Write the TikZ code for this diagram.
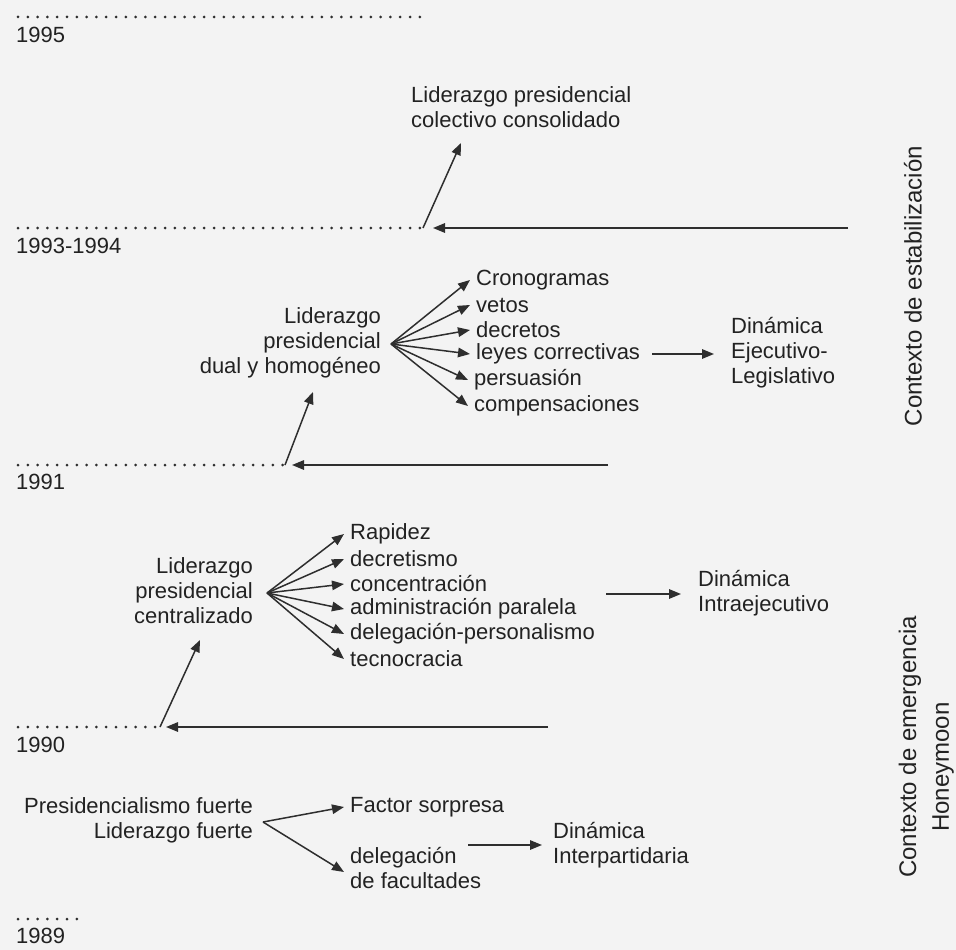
\documentclass[tikz,border=0pt]{standalone}
\usepackage{fontspec}
\setmainfont{Liberation Sans}
\usetikzlibrary{arrows.meta,calc}
\definecolor{bgc}{HTML}{F3F3F3}
\definecolor{txt}{HTML}{222222}
\definecolor{ln}{HTML}{2E2E2E}
\newcommand\fsA{\fontsize{22}{25}\selectfont}
\newcommand\fsB{\fontsize{24}{27}\selectfont}
\tikzset{
  lbl/.style={font=\fsA, text=txt, inner sep=0pt},
  itm/.style={lbl, anchor=west, inner xsep=6pt, align=left},
  arr/.style={draw=ln, line width=1.5pt, -{Triangle[length=12pt,width=9.5pt]}},
  dotl/.style={draw=ln, line width=3pt, line cap=round, dash pattern=on 0pt off 9.8pt},
  vlbl/.style={font=\fsB, text=txt, rotate=90, inner sep=0pt}
}
\begin{document}
\begin{tikzpicture}[x=1pt,y=-1pt]
\fill[bgc] (0,0) rectangle (956,950);
\useasboundingbox (0,0) rectangle (956,950);

% ---------- 1995 / 1993-1994 ----------
\coordinate (d95a) at (18,17);
\coordinate (d95b) at (427,17);
\draw[dotl] (d95a) -- (d95b);
\node[lbl,anchor=west] (y95) at (16,35) {1995};

\node[lbl,anchor=west,align=left] (lcc) at (411,107) {Liderazgo presidencial\\colectivo consolidado};
\coordinate (t93) at (461,143);
\coordinate (d93a) at (18,228);
\coordinate (p93) at (423,228);
\draw[dotl] (d93a) -- (p93);
\draw[arr] (p93) -- (t93);
\coordinate (r93) at (848,228);
\draw[arr, shorten >=10pt] (r93) -- (p93);
\node[lbl,anchor=west] (y93) at (16,246) {1993-1994};

\node[vlbl] (ce) at (913,286) {Contexto de estabilización};

% ---------- 1991 block ----------
\node[lbl,anchor=east,align=right] (ldh) at (381,343) {Liderazgo\\presidencial\\dual y homogéneo};
\coordinate (f91) at (391,344);
\node[itm] (i1) at (470,280) {Cronogramas};
\node[itm] (i2) at (470,305) {vetos};
\node[itm] (i3) at (470,330) {decretos};
\node[itm] (i4) at (470,354) {leyes correctivas};
\node[itm] (i5) at (468,380) {persuasión};
\node[itm] (i6) at (468,406) {compensaciones};
\foreach \n in {i1,i2,i3,i4,i5,i6} \draw[arr] (f91) -- (\n.west);

\node[lbl,anchor=west,align=left] (dej) at (731,353) {Dinámica\\Ejecutivo-\\Legislativo};
\coordinate (e91a) at (652,354);
\draw[arr, shorten >=17pt] (e91a) -- (dej.west |- e91a);

\coordinate (d91a) at (18,465);
\coordinate (p91) at (285,465);
\draw[dotl] (d91a) -- (p91);
\coordinate (t91) at (313,392);
\draw[arr] (p91) -- (t91);
\coordinate (r91) at (608,465);
\draw[arr, shorten >=7pt] (r91) -- (p91);
\node[lbl,anchor=west] (y91) at (16,482) {1991};

% ---------- 1990 block ----------
\node[lbl,anchor=east,align=right] (lpc) at (253,591) {Liderazgo\\presidencial\\centralizado};
\coordinate (f90) at (267,593);
\node[itm] (j1) at (344,534) {Rapidez};
\node[itm] (j2) at (344,559) {decretismo};
\node[itm] (j3) at (344,584) {concentración};
\node[itm] (j4) at (344,609) {administración paralela};
\node[itm] (j5) at (344,634) {delegación-personalismo};
\node[itm] (j6) at (344,659) {tecnocracia};
\foreach \n in {j1,j2,j3,j4,j5,j6} \draw[arr] (f90) -- (\n.west);

\node[lbl,anchor=west,align=left] (din) at (698,593) {Dinámica\\Intraejecutivo};
\coordinate (e90a) at (606,594);
\draw[arr, shorten >=17pt] (e90a) -- (din.west |- e90a);

\coordinate (d90a) at (18,727);
\coordinate (p90) at (160,727);
\draw[dotl] (d90a) -- (p90);
\coordinate (t90) at (200,640);
\draw[arr] (p90) -- (t90);
\coordinate (r90) at (548,727);
\draw[arr, shorten >=6pt] (r90) -- (p90);
\node[lbl,anchor=west] (y90) at (16,745) {1990};

% ---------- 1989 block ----------
\node[lbl,anchor=east,align=right] (plf) at (253,820) {Presidencialismo fuerte\\Liderazgo fuerte};
\coordinate (f89) at (263,822);
\node[itm] (k1) at (344,807) {Factor sorpresa};
\node[itm] (k2) at (344,868) {delegación\\de facultades};
\draw[arr] (f89) -- (k1.west);
\draw[arr] (f89) -- ($(k2.west)+(0,4)$);

\node[lbl,anchor=west,align=left] (dip) at (553,845) {Dinámica\\Interpartidaria};
\coordinate (e89a) at (468,845);
\draw[arr, shorten >=11pt] (e89a) -- (dip.west |- e89a);

\coordinate (d89a) at (18,919);
\coordinate (d89b) at (83,919);
\draw[dotl] (d89a) -- (d89b);
\node[lbl,anchor=west] (y89) at (16,936) {1989};

% ---------- vertical labels ----------
\node[vlbl] (cem) at (910,747) {Contexto de emergencia};
\node[vlbl] (hon) at (943,767) {Honeymoon};
\end{tikzpicture}
\end{document}
